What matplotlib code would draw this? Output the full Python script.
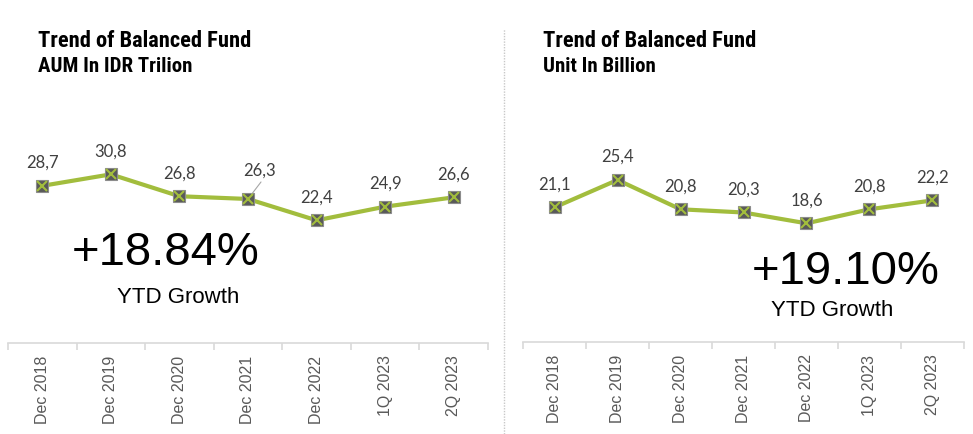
import matplotlib.pyplot as plt
from matplotlib.lines import Line2D

# data
periods = ['Dec 2018', 'Dec 2019', 'Dec 2020', 'Dec 2021', 'Dec 2022', '1Q 2023', '2Q 2023']
aum = [28.7, 30.8, 26.8, 26.3, 22.4, 24.9, 26.6]
unit = [21.1, 25.4, 20.8, 20.3, 18.6, 20.8, 22.2]
aum_growth = '+18.84%'
unit_growth = '+19.10%'

W, H = 973, 434
green = '#A2BD3D'
label_font = ['Lato', 'DejaVu Sans']
title_font = ['Roboto Condensed', 'DejaVu Sans']
arial = ['Liberation Sans', 'DejaVu Sans']

fig = plt.figure(figsize=(W / 100, H / 100), dpi=100)


def px_axes(x0, x1, y_top, y_bottom):
    return fig.add_axes([x0 / W, 1 - y_bottom / H, (x1 - x0) / W, (y_bottom - y_top) / H])


def draw_panel(ax, values, ymax, special=None):
    x = list(range(len(values)))
    ax.plot(x, values, color=green, lw=3, zorder=2)
    ax.plot(x, values, ls='none', marker='s', ms=9, mfc='#595959', mec='#8C8C8C', mew=0.8, zorder=3)
    ax.plot(x, values, ls='none', marker='x', ms=6.7, mec=green, mew=1.5, zorder=4)
    for i, v in enumerate(values):
        txt = f'{v:.1f}'.replace('.', ',')
        off = (12, 23) if i == special else (0, 18)
        ax.annotate(txt, (i, v), xytext=off, textcoords='offset pixels',
                    ha='center', va='baseline', fontsize=12, color='#404040', family=label_font)
    ax.set_xlim(-0.5, len(values) - 0.5)
    ax.set_ylim(0, ymax)
    for s in ['left', 'right', 'top']:
        ax.spines[s].set_visible(False)
    ax.spines['bottom'].set_color('#D9D9D9')
    ax.spines['bottom'].set_linewidth(1.2)
    ax.set_yticks([])
    ax.set_xticks(x)
    ax.set_xticklabels(periods, rotation=90, fontsize=11.5, color='#595959', family=arial)
    ax.set_xticks([i - 0.5 for i in range(len(values) + 1)], minor=True)
    ax.tick_params(axis='x', which='major', length=0, pad=9)
    ax.tick_params(axis='x', which='minor', length=5, color='#D9D9D9', width=1.2)
    ax.patch.set_alpha(0)


ax1 = px_axes(8, 488, 100, 343)
draw_panel(ax1, aum, (343 - 100) / 5.476, special=3)
# leader line for the shifted label
ax1.annotate('', xy=(3, aum[3]), xytext=(13, 17), textcoords='offset pixels',
             arrowprops=dict(arrowstyle='-', color='#A6A6A6', lw=0.8, shrinkA=0, shrinkB=4))

ax2 = px_axes(523, 964, 100, 342)
draw_panel(ax2, unit, (342 - 100) / 6.38)

# titles
for x0, sub in [(38, 'AUM In IDR Trilion'), (543, 'Unit In Billion')]:
    fig.text(x0 / W, 1 - 47 / H, 'Trend of Balanced Fund', fontsize=16.2, fontweight='heavy',
             fontstretch='condensed', family=title_font, va='baseline')
    fig.text(x0 / W, 1 - 72 / H, sub, fontsize=15, fontweight='bold',
             fontstretch='condensed', family=title_font, va='baseline')

# growth callouts
fig.text(166 / W, 1 - 265 / H, aum_growth, fontsize=34, family=arial, ha='center', va='baseline')
fig.text(178 / W, 1 - 303 / H, 'YTD Growth', fontsize=16, family=arial, ha='center', va='baseline')
fig.text(846 / W, 1 - 284 / H, unit_growth, fontsize=34, family=arial, ha='center', va='baseline')
fig.text(832 / W, 1 - 316 / H, 'YTD Growth', fontsize=16, family=arial, ha='center', va='baseline')

# divider
fig.add_artist(Line2D([504 / W, 504 / W], [0, 1 - 29 / H], transform=fig.transFigure,
                      color='#C8C8C8', lw=1, ls=(0, (1, 1))))

fig.savefig('out.png', dpi=100)
